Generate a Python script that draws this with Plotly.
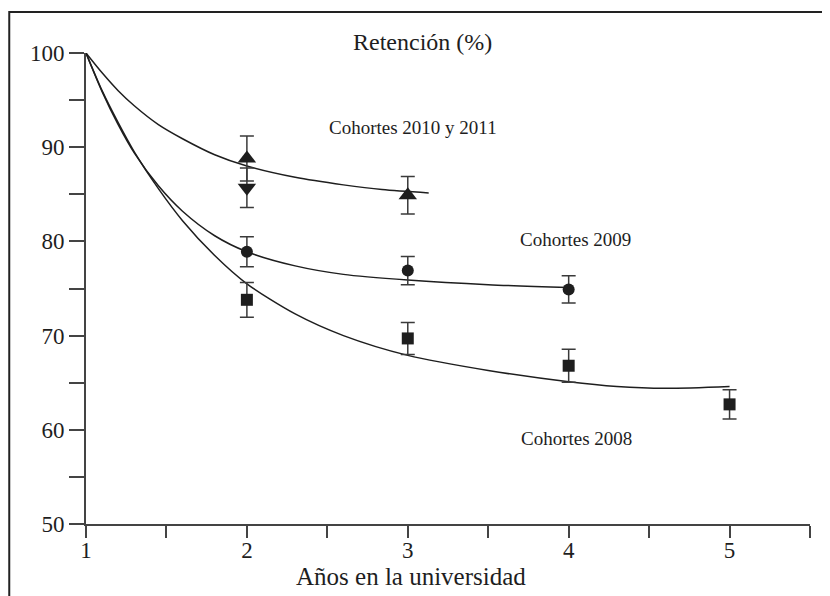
import plotly.graph_objects as go

# ---- data ----
# fitted retention curves
curve_2010_x = [1, 1.1, 1.2, 1.3, 1.45, 1.6, 1.8, 2.0, 2.3, 2.6, 2.84, 3.13]
curve_2010_y = [100, 97.9, 96.0, 94.4, 92.4, 90.9, 89.2, 88.0, 86.8, 86.0, 85.5, 85.15]

curve_2009_x = [1, 1.1, 1.2, 1.3, 1.45, 1.6, 1.8, 2.0, 2.3, 2.6, 3.0, 3.5, 4.0]
curve_2009_y = [100, 95.9, 92.4, 89.4, 85.9, 83.2, 80.6, 78.9, 77.4, 76.5, 75.9, 75.4, 75.1]

curve_2008_x = [1, 1.1, 1.2, 1.3, 1.45, 1.6, 1.8, 2.0, 2.3, 2.6, 3.0, 3.5, 4.0, 4.3, 4.6, 5.0]
curve_2008_y = [100, 96.0, 92.6, 89.5, 85.6, 82.2, 78.5, 75.5, 72.3, 70.0, 67.9, 66.3, 65.1, 64.6, 64.4, 64.6]

# observed means with error bars
sq_x = [2, 3, 4, 5]
sq_y = [73.8, 69.7, 66.8, 62.7]
sq_err = [1.85, 1.7, 1.75, 1.55]

ci_x = [2, 3, 4]
ci_y = [78.9, 76.9, 74.9]
ci_err = [1.6, 1.5, 1.45]

tu_x = [2, 3]
tu_y = [88.8, 84.9]
tu_err = [2.4, 2.0]

td_x = [2]
td_y = [85.7]
td_err = [2.1]

x_ticks = [1, 1.5, 2, 2.5, 3, 3.5, 4, 4.5, 5, 5.5]
x_ticktext = ["1", "", "2", "", "3", "", "4", "", "5", ""]
y_ticks = [50, 55, 60, 65, 70, 75, 80, 85, 90, 95, 100]
y_ticktext = ["50", "", "60", "", "70", "", "80", "", "90", "", "100"]

FONT = "Liberation Serif, DejaVu Serif, serif"
INK = "#1e1e1e"
BAR = "#3a3a3a"

fig = go.Figure()

for cx, cy in [(curve_2010_x, curve_2010_y), (curve_2009_x, curve_2009_y), (curve_2008_x, curve_2008_y)]:
    fig.add_trace(go.Scatter(x=cx, y=cy, mode="lines",
                             line=dict(color=INK, width=1.5, shape="spline", smoothing=0.8),
                             hoverinfo="skip", showlegend=False))

def pts(x, y, err, symbol, size):
    fig.add_trace(go.Scatter(
        x=x, y=y, mode="markers",
        marker=dict(symbol=symbol, size=size, color=INK, line=dict(width=0)),
        error_y=dict(type="data", array=err, visible=True, color=BAR, thickness=1.5, width=7),
        showlegend=False))

pts(sq_x, sq_y, sq_err, "square", 12)
pts(ci_x, ci_y, ci_err, "circle", 12)
pts(tu_x, tu_y, tu_err, "triangle-up", 16)
pts(td_x, td_y, td_err, "triangle-down", 16)

annots = [
    dict(text="Retención (%)", x=3.09, y=1.023, xref="x", yref="paper", font=dict(size=24)),
    dict(text="Cohortes 2010 y 2011", x=3.03, y=92.1, xref="x", yref="y", font=dict(size=19)),
    dict(text="Cohortes 2009", x=4.04, y=80.15, xref="x", yref="y", font=dict(size=19)),
    dict(text="Cohortes 2008", x=4.05, y=59.1, xref="x", yref="y", font=dict(size=19)),
    dict(text="Años en la universidad", x=3.02, y=-0.1125, xref="x", yref="paper", font=dict(size=25)),
]
for a in annots:
    a.update(showarrow=False, xanchor="center", yanchor="middle")
    a["font"].update(family=FONT, color=INK)

fig.update_layout(
    width=822, height=588,
    margin=dict(l=78, r=20, t=45, b=72),
    paper_bgcolor="white", plot_bgcolor="white",
    font=dict(family=FONT, color=INK),
    annotations=annots,
    shapes=[dict(type="rect", xref="paper", yref="paper",
                 x0=-0.106, x1=1.06, y0=-0.19, y1=1.087,
                 line=dict(color="#222", width=2), fillcolor="rgba(0,0,0,0)", layer="below")],
    xaxis=dict(range=[1, 5.5], showgrid=False, zeroline=False,
               showline=True, linecolor="#444", linewidth=2,
               ticks="outside", ticklen=12, tickwidth=1.5, tickcolor="#444",
               tickvals=x_ticks, ticktext=x_ticktext, ticklabelstandoff=-8,
               tickfont=dict(size=23, family=FONT, color=INK)),
    yaxis=dict(range=[50, 100], showgrid=False, zeroline=False,
               showline=True, linecolor="#444", linewidth=2,
               ticks="outside", ticklen=15, tickwidth=1.5, tickcolor="#444",
               tickvals=y_ticks, ticktext=y_ticktext,
               tickfont=dict(size=23, family=FONT, color=INK)),
)

fig.write_html("out.html")
